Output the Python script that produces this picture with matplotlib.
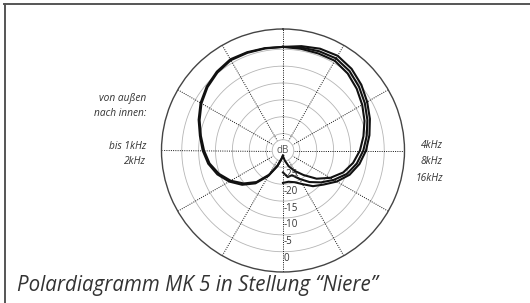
import numpy as np
import matplotlib
matplotlib.use('Agg')
import matplotlib.pyplot as plt
from matplotlib.lines import Line2D

# angles in degrees, 0 = front (top), measured towards each half
angles = [0, 10, 20, 30, 40, 50, 60, 70, 80, 90, 100, 110, 120, 130, 140,
          150, 160, 170, 180]

# left half (low frequencies), level in dB
db_1k = [0.7, 0.8, 1.0, 1.2, 0.5, -0.5, -1.8, -3.4, -5.0, -6.2, -7.5, -9.3,
         -11.6, -14.2, -17.3, -21.3, -25.0, -27.5, -28.5]
db_2k = [0.7, 0.7, 0.8, 0.9, 0.2, -0.8, -2.1, -3.7, -5.3, -6.6, -7.9, -9.8,
         -12.1, -14.8, -17.8, -21.7, -25.2, -27.5, -28.5]

# right half (high frequencies)
db_4k = [0.7, 1.4, 2.1, 2.4, 1.6, 0.3, -1.2, -2.6, -4.0, -5.4, -7.0, -9.0,
         -11.6, -14.3, -16.2, -18.5, -20.0, -20.6, -20.4]
db_8k = [0.7, 1.0, 1.3, 1.5, 0.7, -0.6, -2.0, -3.4, -4.8, -6.2, -7.8, -9.8,
         -12.6, -15.3, -17.8, -20.3, -22.2, -22.0, -23.5]
db_16k = [0.7, 0.6, 0.6, 0.7, -0.2, -1.5, -2.9, -4.3, -5.8, -7.2, -8.9, -11.0,
          -13.8, -17.0, -20.5, -23.0, -25.0, -27.0, -28.3]

ring_labels = ['-25', '-20', '-15', '-10', '-5', '0']
ring_db = [-25, -20, -15, -10, -5, 0]

left_names = ['von außen', 'nach innen:', '', 'bis 1kHz', '2kHz']
right_names = ['4kHz', '8kHz', '16kHz']
title = 'Polardiagramm MK 5 in Stellung \u201cNiere\u201d'

OFF = 30.0  # radius = level + 30 dB
RMAX = 36.0

fig = plt.figure(figsize=(5.30, 3.03), dpi=100)
fig.patch.set_facecolor('white')

# frame lines top and left
fig.add_artist(Line2D([4 / 530, 1], [1 - 3.5 / 303, 1 - 3.5 / 303],
                      color='#555555', lw=1.4))
fig.add_artist(Line2D([4.5 / 530, 4.5 / 530], [0, 1 - 3.5 / 303],
                      color='#555555', lw=1.4))

cx, cy, R = 283.0, 150.5, 121.5
ax = fig.add_axes([(cx - R) / 530, (303 - cy - R) / 303, 2 * R / 530, 2 * R / 303],
                  projection='polar')
ax.set_theta_zero_location('N')
ax.set_theta_direction(1)
ax.set_ylim(0, RMAX)
ax.set_xticks([])
ax.set_yticks([])
ax.grid(False)
ax.spines['polar'].set_color('#444444')
ax.spines['polar'].set_linewidth(1.0)
ax.patch.set_alpha(0)

full = np.linspace(0, 2 * np.pi, 361)
for d in ring_db:
    ax.plot(full, np.full_like(full, d + OFF), color='#b5b5b5', lw=0.6, zorder=1)

for a in range(0, 360, 30):
    t = np.deg2rad(a)
    ax.plot([t, t], [3.2, RMAX], color='#111111', lw=0.7, ls=(0, (1.0, 1.3)),
            zorder=1)

# small dB circle in the middle
ax.fill(full, np.full_like(full, 3.2), color='white', zorder=2)
ax.plot(full, np.full_like(full, 3.2), color='#b5b5b5', lw=0.6, zorder=2)
ax.text(0, 0, 'dB', ha='center', va='center', fontsize=7, color='#555555',
        family='Open Sans', zorder=2)

th = np.deg2rad(np.array(angles))
for vals in (db_1k, db_2k):
    ax.plot(th, np.array(vals) + OFF, color='#111111', lw=1.5, zorder=3)
for vals in (db_4k, db_8k, db_16k):
    ax.plot(-th, np.array(vals) + OFF, color='#111111', lw=1.5, zorder=3)

for d, lab in zip(ring_db, ring_labels):
    ax.annotate(lab, xy=(np.pi, d + OFF), xytext=(0.5, -5),
                textcoords='offset points', ha='left', va='center',
                fontsize=7, color='#333333', family='Open Sans', zorder=4)

ys = [98.5, 114, 130, 146.5, 161.5]
for y, s in zip(ys, left_names):
    if s:
        fig.text(146 / 530, 1 - y / 303, s, ha='right', va='center',
                 fontsize=7.3, style='italic', color='#333333',
                 family='Open Sans')
for y, s in zip([145.5, 162, 178.5], right_names):
    fig.text(443 / 530, 1 - y / 303, s, ha='right', va='center',
             fontsize=7.3, style='italic', color='#333333', family='Open Sans')

fig.text(17 / 530, 1 - 285 / 303, title, ha='left', va='center',
         fontsize=14.8, style='italic', color='#333333', family='Open Sans')

fig.savefig('out.png', dpi=100)
